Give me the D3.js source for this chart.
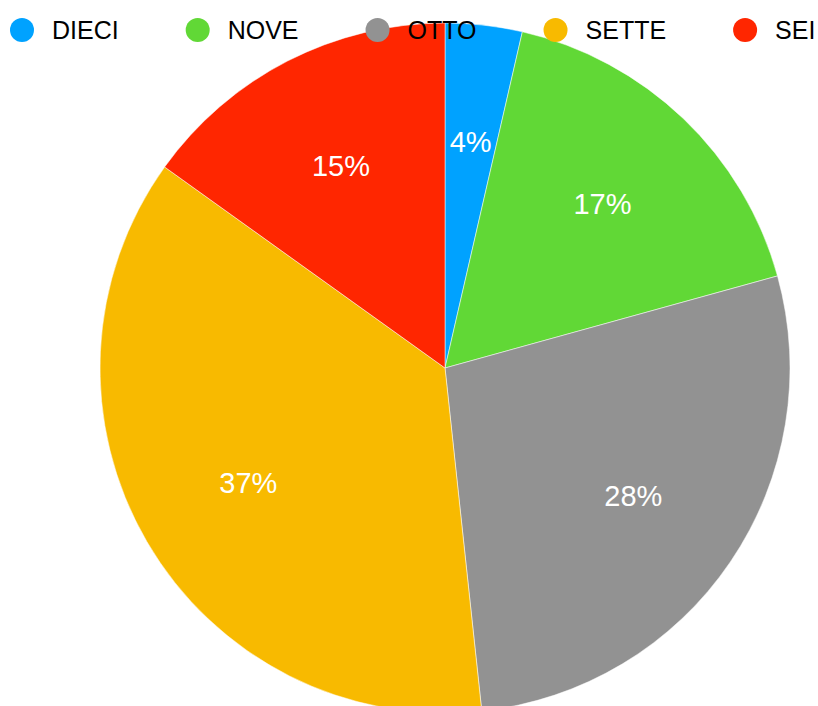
<!DOCTYPE html>
<html>
<head>
<meta charset="UTF-8">
<title>Pie</title>
<script src="https://cdn.jsdelivr.net/npm/d3@7"></script>
<style>
html, body { margin: 0; padding: 0; background: #fff; }
svg { display: block; font-family: "Liberation Sans", Arial, Helvetica, sans-serif; }
</style>
</head>
<body>
<script>
// categories + values (share of total)
var categories = ["DIECI", "NOVE", "OTTO", "SETTE", "SEI"];
var values = [3.6, 17.1, 27.6, 36.6, 15.1];
var colors = ["#00a2ff", "#61d836", "#929292", "#f8ba00", "#ff2600"];

var width = 818, height = 706;
var cx = 445, cy = 368, radius = 345;

var svg = d3.select("body").append("svg")
    .attr("width", width)
    .attr("height", height);

var color = d3.scaleOrdinal().domain(categories).range(colors);

var data = categories.map(function(c, i) { return {name: c, value: values[i]}; });
var total = d3.sum(values);

var pie = d3.pie().sort(null).value(function(d) { return d.value; });
var arc = d3.arc().innerRadius(0).outerRadius(radius);
var labelArc = d3.arc().innerRadius(radius * 0.66).outerRadius(radius * 0.66);

var g = svg.append("g").attr("transform", "translate(" + cx + "," + cy + ")");

var slices = g.selectAll(".slice")
    .data(pie(data))
  .enter().append("g")
    .attr("class", "slice");

slices.append("path")
    .attr("d", arc)
    .style("fill", function(d) { return color(d.data.name); })
    .style("stroke", "#fff")
    .style("stroke-width", 0.5);

slices.append("text")
    .attr("transform", function(d) { return "translate(" + labelArc.centroid(d) + ")"; })
    .attr("text-anchor", "middle")
    .attr("dy", "0.36em")
    .style("fill", "#fff")
    .style("font-size", "29px")
    .text(function(d) { return Math.round(d.data.value / total * 100) + "%"; });

// legend, flows left to right on top of the pie
var legend = svg.append("g").attr("class", "legend");
var x = 10;
data.forEach(function(d) {
  var item = legend.append("g").attr("transform", "translate(" + x + ",30)");
  item.append("circle")
      .attr("cx", 12).attr("cy", 0).attr("r", 12)
      .style("fill", color(d.name));
  var t = item.append("text")
      .attr("x", 42).attr("dy", "0.36em")
      .style("font-size", "25px")
      .style("fill", "#000")
      .text(d.name);
  x += 42 + t.node().getComputedTextLength() + 67;
});
</script>
</body>
</html>
